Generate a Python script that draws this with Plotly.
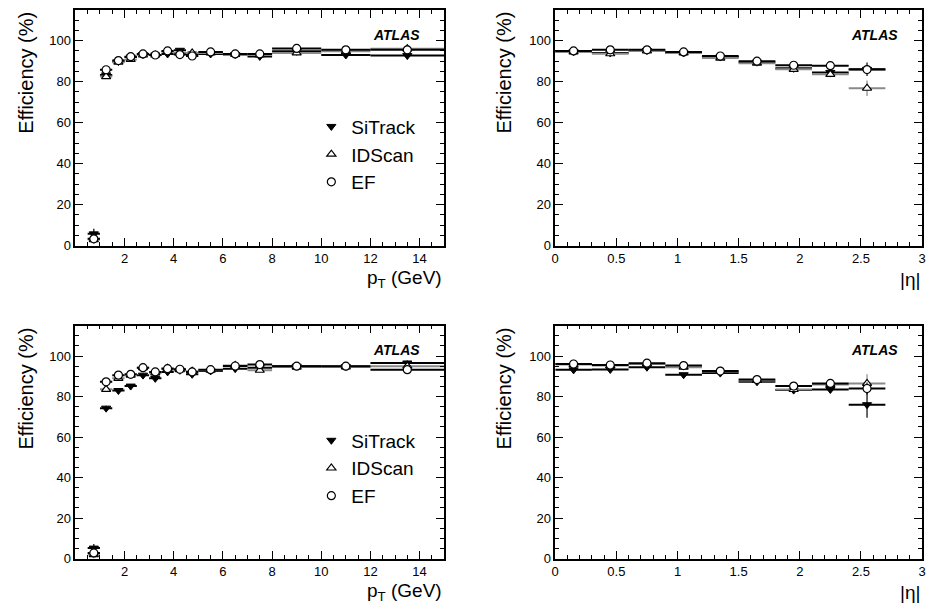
import plotly.graph_objects as go

# ---------------- data ----------------
series_names = ["SiTrack", "IDScan", "EF"]

pt_centers = [0.75, 1.25, 1.75, 2.25, 2.75, 3.25, 3.75, 4.25, 4.75, 5.5, 6.5, 7.5, 9, 11, 13.5]
pt_halfw = [0.25, 0.25, 0.25, 0.25, 0.25, 0.25, 0.25, 0.25, 0.25, 0.5, 0.5, 0.5, 1, 1, 1.5]
eta_centers = [0.15, 0.45, 0.75, 1.05, 1.35, 1.65, 1.95, 2.25, 2.55]
eta_halfw = [0.15, 0.15, 0.15, 0.15, 0.15, 0.15, 0.15, 0.15, 0.15]

# top row
top_pt_sitrack = [5.8, 83.3, 89.8, 92.0, 93.2, 93.0, 93.5, 95.3, 93.5, 93.5, 93.2, 92.3, 94.8, 93.0, 92.7]
top_pt_idscan  = [3.0, 82.5, 89.5, 90.8, 93.0, 93.0, 94.5, 94.0, 94.0, 94.0, 93.3, 93.0, 94.0, 94.8, 96.0]
top_pt_ef      = [3.4, 85.8, 90.3, 92.2, 93.5, 93.0, 95.0, 93.2, 92.5, 94.5, 93.5, 93.5, 96.2, 95.5, 95.5]
top_pt_err_sitrack = [2.5, 1.2, 0.7, 0.7, 0.6, 0.6, 0.7, 0.8, 0.8, 0.7, 0.8, 0.8, 0.9, 1.0, 1.3]
top_pt_err_idscan  = [2.0, 1.2, 0.7, 0.7, 0.6, 0.6, 0.7, 0.8, 0.8, 0.7, 0.8, 0.8, 0.9, 1.0, 1.3]
top_pt_err_ef      = [1.5, 1.0, 0.6, 0.6, 0.5, 0.5, 0.6, 0.7, 0.7, 0.6, 0.7, 0.7, 0.8, 0.9, 1.0]

top_eta_sitrack = [94.6, 94.0, 95.2, 94.0, 92.0, 89.5, 86.5, 84.5, 86.0]
top_eta_idscan  = [94.5, 93.6, 95.0, 94.0, 91.5, 89.0, 86.0, 83.6, 76.8]
top_eta_ef      = [95.0, 95.5, 95.5, 94.5, 92.5, 90.0, 88.0, 87.8, 85.9]
top_eta_err_sitrack = [0.8, 0.8, 0.8, 0.8, 0.9, 1.0, 1.2, 1.5, 3.3]
top_eta_err_idscan  = [0.8, 0.8, 0.8, 0.8, 0.9, 1.0, 1.2, 1.5, 3.8]
top_eta_err_ef      = [0.6, 0.6, 0.6, 0.6, 0.7, 0.8, 1.0, 1.2, 2.0]

# bottom row
bot_pt_sitrack = [5.2, 74.3, 83.0, 85.2, 90.6, 89.0, 92.2, 93.0, 91.0, 92.7, 93.8, 94.3, 95.0, 94.8, 96.6]
bot_pt_idscan  = [2.0, 83.6, 89.0, 90.6, 94.3, 91.7, 94.0, 93.3, 92.5, 93.0, 95.4, 93.0, 94.6, 94.7, 95.0]
bot_pt_ef      = [2.8, 87.3, 90.6, 91.0, 94.3, 92.2, 93.8, 93.5, 92.2, 93.3, 95.1, 95.8, 95.0, 95.0, 93.3]
bot_pt_err_sitrack = [2.0, 1.2, 0.8, 0.8, 0.8, 0.8, 0.8, 0.8, 0.8, 0.8, 0.9, 0.9, 0.9, 1.0, 1.2]
bot_pt_err_idscan  = [1.8, 1.2, 0.8, 0.8, 0.8, 0.8, 0.8, 0.8, 0.8, 0.8, 0.9, 0.9, 0.9, 1.0, 1.2]
bot_pt_err_ef      = [1.5, 1.0, 0.7, 0.7, 0.7, 0.7, 0.7, 0.7, 0.7, 0.7, 0.8, 0.8, 0.8, 0.9, 1.0]

bot_eta_sitrack = [93.2, 93.4, 94.5, 90.8, 91.6, 87.3, 83.2, 83.5, 76.0]
bot_eta_idscan  = [95.8, 95.3, 96.1, 94.5, 92.4, 88.0, 83.5, 86.0, 86.5]
bot_eta_ef      = [96.1, 95.6, 96.5, 95.3, 92.6, 88.4, 85.2, 86.5, 84.0]
bot_eta_err_sitrack = [0.9, 0.9, 0.9, 0.9, 1.0, 1.1, 1.3, 1.6, 6.5]
bot_eta_err_idscan  = [0.8, 0.8, 0.8, 0.8, 0.9, 1.0, 1.2, 1.5, 4.5]
bot_eta_err_ef      = [0.7, 0.7, 0.7, 0.7, 0.8, 0.9, 1.1, 1.3, 3.0]

panels = [
    dict(ax="", x=pt_centers, hw=pt_halfw,
         vals=[top_pt_sitrack, top_pt_idscan, top_pt_ef],
         errs=[top_pt_err_sitrack, top_pt_err_idscan, top_pt_err_ef], legend="legend"),
    dict(ax="2", x=eta_centers, hw=eta_halfw,
         vals=[top_eta_sitrack, top_eta_idscan, top_eta_ef],
         errs=[top_eta_err_sitrack, top_eta_err_idscan, top_eta_err_ef], legend=None),
    dict(ax="3", x=pt_centers, hw=pt_halfw,
         vals=[bot_pt_sitrack, bot_pt_idscan, bot_pt_ef],
         errs=[bot_pt_err_sitrack, bot_pt_err_idscan, bot_pt_err_ef], legend="legend2"),
    dict(ax="4", x=eta_centers, hw=eta_halfw,
         vals=[bot_eta_sitrack, bot_eta_idscan, bot_eta_ef],
         errs=[bot_eta_err_sitrack, bot_eta_err_idscan, bot_eta_err_ef], legend=None),
]

# ---------------- styles ----------------
W, H = 933, 615
FONT = "Liberation Sans, Arial, Helvetica, sans-serif"
line_colors = ["black", "#8a8a8a", "black"]
markers = [
    dict(symbol="triangle-down", size=8, color="black", line=dict(color="black", width=1)),
    dict(symbol="triangle-up", size=8, color="white", line=dict(color="black", width=1.2)),
    dict(symbol="circle", size=8, color="white", line=dict(color="black", width=1.2)),
]

fig = go.Figure()
for p in panels:
    for i in range(3):
        fig.add_trace(go.Scatter(
            x=p["x"], y=p["vals"][i], mode="markers",
            name=series_names[i],
            xaxis="x" + p["ax"], yaxis="y" + p["ax"],
            error_x=dict(type="data", array=p["hw"], width=0, thickness=2, color=line_colors[i]),
            error_y=dict(type="data", array=p["errs"][i], width=0, thickness=1.2, color=line_colors[i]),
            marker=markers[i],
            showlegend=p["legend"] is not None,
            legend=p["legend"] if p["legend"] else "legend",
        ))

def px_x(v):
    return v / W

def px_y(v):
    return 1 - v / H

left_dom = [px_x(72), px_x(444)]
right_dom = [px_x(556), px_x(926)]
top_dom = [px_y(249), px_y(10)]
bot_dom = [px_y(566), px_y(330)]

def axis_common():
    return dict(showline=True, linecolor="black", linewidth=1.5, mirror="allticks",
                ticks="inside", ticklen=8, tickwidth=1.2, tickcolor="black",
                showgrid=False, zeroline=False,
                tickfont=dict(size=13, family=FONT, color="black"))

def xaxis_pt(dom, anchor):
    d = axis_common()
    d.update(domain=dom, anchor=anchor, range=[0, 15], tickmode="array",
             tickvals=[2, 4, 6, 8, 10, 12, 14],
             minor=dict(ticks="inside", ticklen=4, tickwidth=1, tickcolor="black",
                        tickmode="linear", tick0=0, dtick=0.5))
    return d

def xaxis_eta(dom, anchor):
    d = axis_common()
    d.update(domain=dom, anchor=anchor, range=[0, 3], tickmode="array",
             tickvals=[0, 0.5, 1, 1.5, 2, 2.5, 3], ticktext=["0", "0.5", "1", "1.5", "2", "2.5", "3"],
             minor=dict(ticks="inside", ticklen=4, tickwidth=1, tickcolor="black",
                        tickmode="linear", tick0=0, dtick=0.1))
    return d

def yaxis_eff(dom, anchor):
    d = axis_common()
    d.update(domain=dom, anchor=anchor, range=[0, 115], tickmode="array",
             tickvals=[0, 20, 40, 60, 80, 100],
             minor=dict(ticks="inside", ticklen=4, tickwidth=1, tickcolor="black",
                        tickmode="linear", tick0=0, dtick=5))
    return d

annotations = []
def add_titles(xdom_px, ytop_px, ybot_px, xlabel, ytitle_x_px):
    # y title
    annotations.append(dict(text="Efficiency (%)", textangle=-90, xref="paper", yref="paper",
                            x=px_x(ytitle_x_px), y=px_y(ytop_px), xanchor="center", yanchor="top",
                            showarrow=False, font=dict(size=20, family=FONT, color="black")))
    # x title
    annotations.append(dict(text=xlabel, xref="paper", yref="paper",
                            x=px_x(xdom_px[1]), y=px_y(ybot_px + 34), xanchor="right", yanchor="middle",
                            showarrow=False, font=dict(size=19, family=FONT, color="black")))
    # ATLAS
    annotations.append(dict(text="<b><i>ATLAS</i></b>", xref="paper", yref="paper",
                            x=px_x(xdom_px[1] - 22), y=px_y(ytop_px + 25), xanchor="right", yanchor="middle",
                            showarrow=False, font=dict(size=14, family=FONT, color="black")))

add_titles((72, 444), 10, 249, "p<sub>T</sub> (GeV)", 22)
add_titles((556, 926), 10, 249, "|η|", 504)
add_titles((72, 444), 330, 566, "p<sub>T</sub> (GeV)", 22)
add_titles((556, 926), 330, 566, "|η|", 504)

legend_style = dict(font=dict(size=19, family=FONT, color="black"), bgcolor="rgba(0,0,0,0)",
                    borderwidth=0, xanchor="left", yanchor="top", tracegroupgap=0)

fig.update_layout(
    width=W, height=H,
    margin=dict(l=0, r=0, t=0, b=0),
    paper_bgcolor="white", plot_bgcolor="white",
    font=dict(family=FONT, color="black"),
    xaxis=xaxis_pt(left_dom, "y"), yaxis=yaxis_eff(top_dom, "x"),
    xaxis2=xaxis_eta(right_dom, "y2"), yaxis2=yaxis_eff(top_dom, "x2"),
    xaxis3=xaxis_pt(left_dom, "y3"), yaxis3=yaxis_eff(bot_dom, "x3"),
    xaxis4=xaxis_eta(right_dom, "y4"), yaxis4=yaxis_eff(bot_dom, "x4"),
    legend=dict(x=px_x(310), y=px_y(109), **legend_style),
    legend2=dict(x=px_x(310), y=px_y(427), **legend_style),
    annotations=annotations,
)

fig.write_html("out.html")
